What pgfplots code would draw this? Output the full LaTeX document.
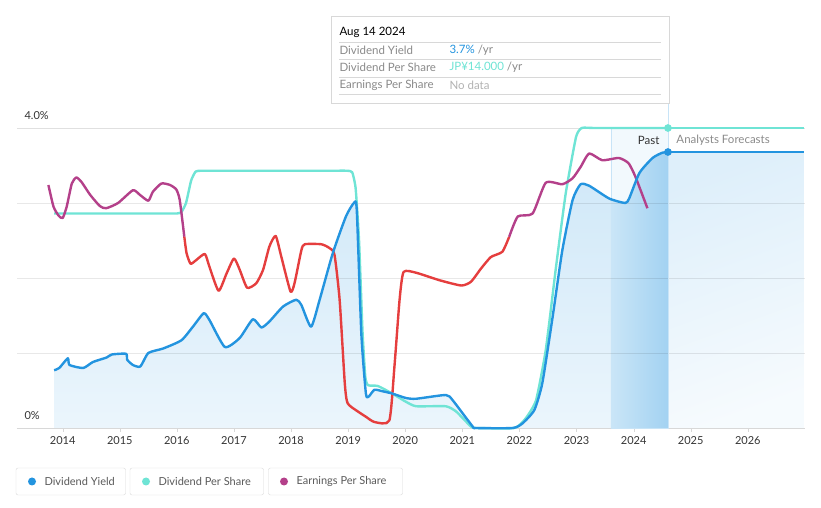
\documentclass[border=0pt]{standalone}
\usepackage{fontspec}
\setmainfont{Lato}
\usepackage{pgfplots}
\pgfplotsset{compat=1.18}
\usepackage{pgfplotstable}

\definecolor{dyblue}{HTML}{2394DF}
\definecolor{dpsteal}{HTML}{6FE4D5}
\definecolor{epspurple}{HTML}{B4408A}
\definecolor{epsred}{HTML}{E53E3E}
\definecolor{txtdark}{HTML}{333333}
\definecolor{txtgray}{HTML}{8A8A8A}
\definecolor{boxline}{HTML}{D8D8D8}

% dividend yield, %
\pgfplotstableread{
year val
2013.85 0.77
2013.94 0.80
2014.09 0.93
2014.12 0.84
2014.36 0.80
2014.53 0.88
2014.77 0.94
2014.86 0.98
2015.11 0.99
2015.13 0.91
2015.23 0.84
2015.36 0.82
2015.50 1.00
2015.76 1.06
2016.08 1.17
2016.28 1.35
2016.47 1.53
2016.57 1.44
2016.84 1.08
2017.10 1.20
2017.33 1.45
2017.48 1.34
2017.62 1.42
2017.86 1.62
2018.09 1.71
2018.18 1.64
2018.35 1.35
2018.50 1.71
2018.73 2.33
2018.96 2.82
2019.10 3.00
2019.15 2.91
2019.23 1.26
2019.31 0.46
2019.36 0.42
2019.46 0.51
2019.60 0.49
2019.77 0.46
2020.01 0.40
2020.19 0.39
2020.71 0.44
2020.83 0.37
2021.18 0.02
2021.24 0.00
2021.88 0.00
2022.05 0.06
2022.26 0.24
2022.40 0.60
2022.58 1.48
2022.75 2.37
2022.93 3.04
2023.07 3.25
2023.22 3.23
2023.57 3.06
2023.85 3.00
2023.92 3.06
2024.10 3.40
2024.33 3.60
2024.50 3.67
2024.60 3.68
}\dy

% same curve inside the "past" band
\pgfplotstableread{
year val
2023.60 3.05
2023.85 3.00
2023.92 3.06
2024.10 3.40
2024.33 3.60
2024.50 3.67
2024.60 3.68
}\dyband

% dividend per share (scaled)
\pgfplotstableread{
year val
2013.85 2.86
2015.00 2.86
2015.70 2.86
2016.00 2.86
2016.08 2.88
2016.16 3.00
2016.25 3.30
2016.33 3.42
2016.45 3.43
2017.00 3.43
2018.00 3.43
2018.70 3.43
2018.98 3.43
2019.07 3.41
2019.13 3.20
2019.19 2.50
2019.25 1.30
2019.30 0.68
2019.35 0.57
2019.52 0.56
2019.77 0.46
2020.01 0.35
2020.19 0.29
2020.71 0.29
2020.89 0.22
2021.15 0.02
2021.25 0.00
2021.91 0.00
2022.11 0.13
2022.29 0.37
2022.46 1.04
2022.64 2.15
2022.81 3.13
2022.99 3.88
2023.09 4.00
2023.30 4.00
2023.80 4.00
2024.60 4.00
}\dps

% earnings per share, split where colour changes
\pgfplotstableread{
year val
2013.75 3.24
2013.84 2.95
2013.93 2.83
2014.00 2.80
2014.07 2.95
2014.16 3.26
2014.24 3.34
2014.33 3.28
2014.48 3.11
2014.65 2.96
2014.76 2.93
2014.97 3.00
2015.23 3.17
2015.35 3.11
2015.50 3.03
2015.58 3.15
2015.73 3.26
2015.88 3.24
2015.99 3.18
2016.05 3.04
2016.13 2.55
}\epsa

\pgfplotstableread{
year val
2016.13 2.55
2016.17 2.33
2016.24 2.19
2016.34 2.24
2016.49 2.32
2016.57 2.15
2016.73 1.83
2016.87 2.06
2017.00 2.26
2017.10 2.11
2017.23 1.87
2017.39 1.93
2017.51 2.11
2017.62 2.42
2017.73 2.56
2017.83 2.28
2017.99 1.82
2018.06 1.93
2018.18 2.37
2018.24 2.45
2018.53 2.45
2018.67 2.40
2018.76 2.31
2018.85 1.71
2018.94 0.60
2018.99 0.33
2019.17 0.22
2019.31 0.15
2019.46 0.08
2019.72 0.10
2019.81 0.82
2019.90 1.71
2019.97 2.08
2020.19 2.07
2020.60 1.97
2020.98 1.90
2021.15 1.95
2021.33 2.13
2021.50 2.28
2021.70 2.35
2021.82 2.55
}\epsb

\pgfplotstableread{
year val
2021.82 2.55
2021.97 2.82
2022.23 2.86
2022.46 3.27
2022.75 3.25
2022.93 3.33
2023.07 3.48
2023.22 3.66
2023.45 3.57
2023.74 3.60
2023.91 3.53
2024.03 3.35
2024.24 2.93
}\epsc

\begin{document}
\begin{tikzpicture}[x=1pt,y=1pt]
\useasboundingbox (0,0) rectangle (821,508);

\begin{axis}[
  at={(17pt,80pt)}, anchor=south west,
  scale only axis, width=788pt, height=300pt,
  xmin=2013.2, xmax=2027, ymin=0, ymax=4,
  clip=false,
  axis x line*=bottom, axis y line=none,
  x axis line style={draw=boxline, -},
  xtick={2014,...,2026},
  xticklabels={2014,2015,2016,2017,2018,2019,2020,2021,2022,2023,2024,2025,2026},
  xtick style={draw=boxline},
  tick align=outside, major tick length=4pt,
  xticklabel style={font=\fontsize{11}{12}\selectfont, text=txtdark, yshift=-1pt},
  every axis plot/.append style={line join=round},
]

% past band
\addplot[draw=dyblue!25, fill=dyblue!6!white] coordinates {(2023.6,0) (2023.6,4) (2024.6,4) (2024.6,0)} \closedcycle;

% forecast area
\addplot[draw=none, top color=dyblue!15!white, bottom color=dyblue!4!white, shading angle=20] coordinates {(2024.6,3.68) (2026.98,3.68)} \closedcycle;

% area under dividend yield
\addplot[draw=none, smooth, tension=0.35, top color=dyblue!22!white, bottom color=dyblue!9!white] table[x=year,y=val] {\dy} \closedcycle;
\addplot[draw=none, smooth, tension=0.35, left color=dyblue!24!white, right color=dyblue!42!white] table[x=year,y=val] {\dyband} \closedcycle;

% grid
\draw[black, opacity=0.09] (axis cs:2013.2,1) -- (axis cs:2027,1);
\draw[black, opacity=0.09] (axis cs:2013.2,2) -- (axis cs:2027,2);
\draw[black, opacity=0.09] (axis cs:2013.2,3) -- (axis cs:2027,3);
\draw[black, opacity=0.12] (axis cs:2013.2,4) -- (axis cs:2027,4);

% vertical marker line
\draw[dyblue!25] (axis cs:2024.6,0) -- (axis cs:2024.6,4.33);

% forecast lines
\addplot[dpsteal, line width=2.6pt] coordinates {(2024.6,4.0) (2026.98,4.0)};
\addplot[dyblue, line width=2.6pt] coordinates {(2024.6,3.68) (2026.98,3.68)};

% series
\addplot[dpsteal, line width=2.4pt, smooth, tension=0.3] table[x=year,y=val] {\dps};
\addplot[epspurple, line width=2.4pt, smooth, tension=0.35] table[x=year,y=val] {\epsa};
\addplot[epsred, line width=2.4pt, smooth, tension=0.35] table[x=year,y=val] {\epsb};
\addplot[epspurple, line width=2.4pt, smooth, tension=0.35] table[x=year,y=val] {\epsc};
\addplot[dyblue, line width=2.4pt, smooth, tension=0.35] table[x=year,y=val] {\dy};

\addplot[only marks, mark=*, mark size=3.6pt, dpsteal] coordinates {(2024.6,4.0)};
\addplot[only marks, mark=*, mark size=3.6pt, dyblue] coordinates {(2024.6,3.68)};

\node[anchor=west, font=\fontsize{11}{12}\selectfont, text=txtdark] at (rel axis cs:0,1) [xshift=4pt, yshift=12pt] {4.0\%};
\node[anchor=west, font=\fontsize{11}{12}\selectfont, text=txtdark] at (rel axis cs:0,0) [xshift=4pt, yshift=12pt] {0\%};
\node[anchor=east, font=\fontsize{11.5}{12}\selectfont, text=txtdark] at (axis cs:2024.6,3.83) [xshift=-5pt] {Past};
\node[anchor=west, font=\fontsize{11.5}{12}\selectfont, text=txtgray] at (axis cs:2024.6,3.83) [xshift=5pt] {Analysts Forecasts};
\end{axis}

% tooltip
\draw[boxline, fill=white] (331,405) rectangle (669,492);
\node[anchor=west, font=\fontsize{11.5}{12}\selectfont, text=black] at (336,476) {Aug 14 2024};
\foreach \yy in {466,449,431,414} \draw[boxline] (339,\yy) -- (661,\yy);
\begin{scope}[every node/.style={anchor=west, font=\fontsize{11.5}{12}\selectfont}]
\node[text=txtgray] at (336,458) {Dividend Yield};
\node[text=txtgray] at (336,441) {Dividend Per Share};
\node[text=txtgray] at (336,423) {Earnings Per Share};
\node at (446,458) {\textcolor{dyblue}{3.7\%} \textcolor{txtgray}{/yr}};
\node at (446,441) {\textcolor{dpsteal}{JP¥14.000} \textcolor{txtgray}{/yr}};
\node[text=black!30] at (446,423) {No data};
\end{scope}

% legend
\begin{scope}[every node/.style={anchor=west, font=\fontsize{11}{12}\selectfont, text=black!65}]
\draw[boxline, rounded corners=2pt] (16,13) rectangle (125.5,40);
\fill[dyblue] (32,26.5) circle (4);
\node at (41,26.5) {Dividend Yield};
\draw[boxline, rounded corners=2pt] (130,13) rectangle (263.5,40);
\fill[dpsteal] (146,26.5) circle (4);
\node at (155,26.5) {Dividend Per Share};
\draw[boxline, rounded corners=2pt] (268.5,13) rectangle (402.5,40);
\fill[epspurple] (284,26.5) circle (4);
\node at (293,26.5) {Earnings Per Share};
\end{scope}
\end{tikzpicture}
\end{document}
